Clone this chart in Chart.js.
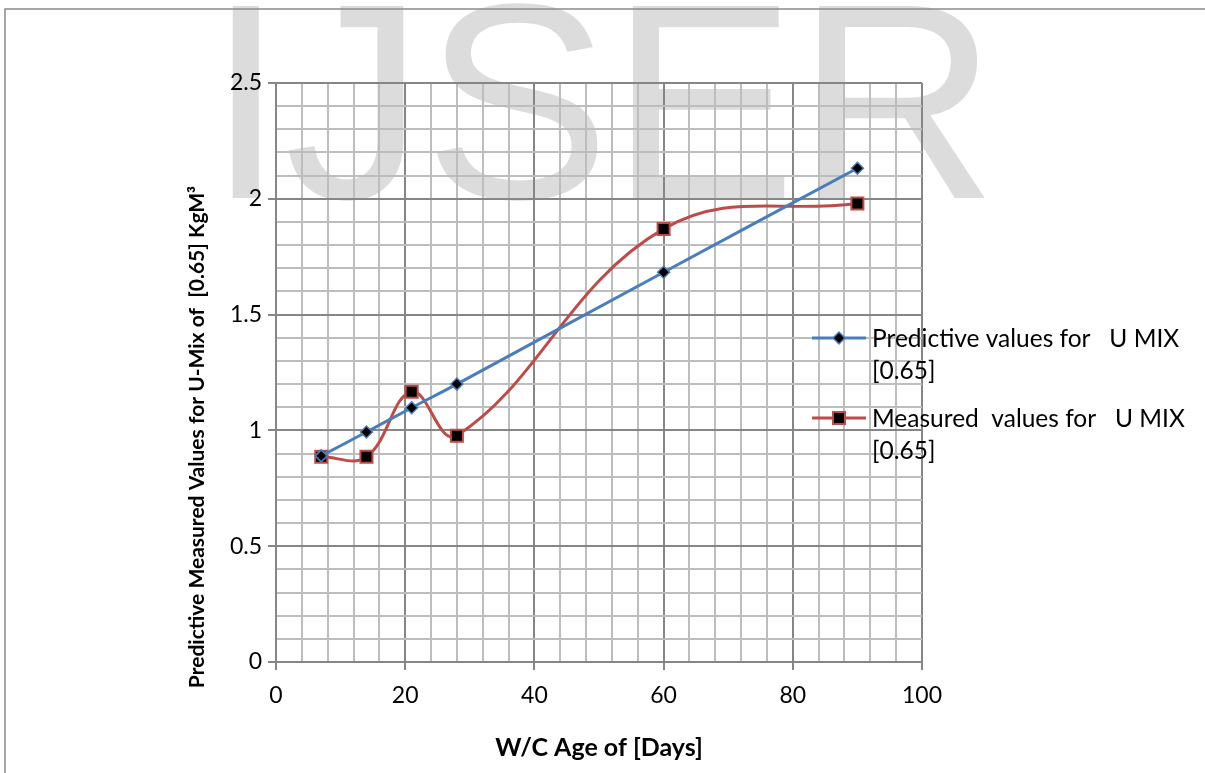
<!DOCTYPE html>
<html>
<head>
<meta charset="utf-8">
<script src="https://cdn.jsdelivr.net/npm/chart.js@4.4.1/dist/chart.umd.min.js"></script>
<style>
  html, body { margin: 0; padding: 0; background: #ffffff; }
  #wrap { width: 1205px; height: 773px; position: relative; }
</style>
</head>
<body>
<div id="wrap"><canvas id="c" width="1205" height="773"></canvas></div>
<script>
// ---- data ----
const days = [7, 14, 21, 28, 60, 90];
const predictive = [0.89, 0.993, 1.098, 1.20, 1.683, 2.132];
const measured = [0.886, 0.886, 1.167, 0.977, 1.87, 1.98];
const xTickLabels = [0, 20, 40, 60, 80, 100];
const yTickLabels = [0, 0.5, 1, 1.5, 2, 2.5];
const seriesNames = ['Predictive values for   U MIX [0.65]', 'Measured  values for   U MIX [0.65]'];
const xTitle = 'W/C Age of [Days]';
const yTitle = 'Predictive Measured Values for U-Mix of  [0.65] KgM\u00B3';
const watermark = 'IJSER';

// ---- styles ----
const BLUE = '#4a7ebb';
const RED = '#be4b48';
const MAJOR = '#868686';
const MINOR = '#bdbdbd';

Chart.defaults.font.family = 'Lato, "Open Sans", sans-serif';
Chart.defaults.color = '#000000';

function isMajorX(v) { return xTickLabels.some(t => Math.abs(t - v) < 1e-6); }
function isMajorY(v) { return yTickLabels.some(t => Math.abs(t - v) < 1e-6); }

const toPoints = (xs, ys) => xs.map((x, i) => ({ x: x, y: ys[i] }));

const backgroundPlugin = {
  id: 'backdrop',
  beforeDraw(chart) {
    const ctx = chart.ctx;
    ctx.save();
    ctx.fillStyle = '#ffffff';
    ctx.fillRect(0, 0, chart.width, chart.height);
    // watermark
    ctx.fillStyle = '#dcdcdc';
    ctx.font = '279px "Liberation Sans", Arial, sans-serif';
    ctx.textBaseline = 'alphabetic';
    ctx.textAlign = 'left';
    ctx.fillText(watermark, 207, 198);
    // outer frame
    ctx.strokeStyle = '#8a8a8a';
    ctx.lineWidth = 1.5;
    ctx.beginPath();
    ctx.moveTo(5, chart.height);
    ctx.lineTo(5, 9);
    ctx.lineTo(chart.width, 9);
    ctx.stroke();
    ctx.restore();
  }
};

const legendPlugin = {
  id: 'sideLegend',
  afterDraw(chart) {
    const ctx = chart.ctx;
    const H = Chart.helpers;
    const rows = [338, 418];
    ctx.save();
    chart.data.datasets.forEach((ds, i) => {
      const y = rows[i];
      ctx.strokeStyle = ds.borderColor;
      ctx.lineWidth = ds.borderWidth;
      ctx.beginPath();
      ctx.moveTo(812, y);
      ctx.lineTo(866, y);
      ctx.stroke();
      ctx.fillStyle = ds.pointBackgroundColor;
      ctx.strokeStyle = ds.pointBorderColor;
      ctx.lineWidth = ds.pointBorderWidth;
      H.drawPoint(ctx, { pointStyle: ds.pointStyle, rotation: 0, radius: ds.pointRadius, borderWidth: ds.pointBorderWidth }, 839, y);
      const label = ds.label;
      const cut = label.lastIndexOf(' [');
      const lines = [label.slice(0, cut), label.slice(cut + 1)];
      ctx.fillStyle = '#000000';
      ctx.font = '24.5px Lato, "Open Sans", sans-serif';
      ctx.textAlign = 'left';
      ctx.textBaseline = 'alphabetic';
      ctx.fillText(lines[0], 872, y + 9);
      ctx.fillText(lines[1], 872, y + 9 + 32);
    });
    // y axis title
    ctx.translate(197, 437);
    ctx.rotate(-Math.PI / 2);
    ctx.font = 'bold 21px Lato, "Open Sans", sans-serif';
    ctx.textAlign = 'center';
    ctx.textBaseline = 'middle';
    ctx.fillStyle = '#000000';
    ctx.fillText(yTitle, 0, 0);
    ctx.restore();
  }
};

new Chart(document.getElementById('c'), {
  type: 'scatter',
  data: {
    datasets: [
      {
        label: seriesNames[0],
        data: toPoints(days, predictive),
        showLine: true,
        borderColor: BLUE,
        borderWidth: 3,
        tension: 0.4,
        pointStyle: 'rectRot',
        pointRadius: 6,
        pointBackgroundColor: '#000000',
        pointBorderColor: BLUE,
        pointBorderWidth: 1.5
      },
      {
        label: seriesNames[1],
        data: toPoints(days, measured),
        showLine: true,
        borderColor: RED,
        borderWidth: 3,
        tension: 0.4,
        pointStyle: 'rect',
        pointRadius: 8.5,
        pointBackgroundColor: '#000000',
        pointBorderColor: RED,
        pointBorderWidth: 2
      }
    ]
  },
  options: {
    responsive: false,
    animation: false,
    devicePixelRatio: 1,
    layout: { padding: { top: 83, right: 283, left: 0, bottom: 0 } },
    plugins: {
      legend: { display: false },
      tooltip: { enabled: false }
    },
    scales: {
      x: {
        type: 'linear',
        min: 0,
        max: 100,
        afterFit(scale) { scale.height = 111; },
        ticks: {
          stepSize: 4,
          autoSkip: false,
          maxRotation: 0,
          padding: 12,
          font: { size: 23 },
          color: '#000000',
          callback: v => (isMajorX(v) ? String(v) : '')
        },
        grid: {
          color: c => (c.tick && isMajorX(c.tick.value) ? MAJOR : MINOR),
          lineWidth: 2,
          drawTicks: true,
          tickLength: 8,
          tickColor: c => (c.tick && isMajorX(c.tick.value) ? MAJOR : 'rgba(0,0,0,0)'),
          tickWidth: 2
        },
        border: { display: true, color: MAJOR, width: 2 },
        title: {
          display: true,
          text: xTitle,
          font: { size: 25, weight: 'bold' },
          color: '#000000',
          padding: { top: 0, bottom: 10 }
        }
      },
      y: {
        type: 'linear',
        min: 0,
        max: 2.5,
        afterFit(scale) { scale.width = 276; },
        ticks: {
          stepSize: 0.1,
          autoSkip: false,
          padding: 6,
          font: { size: 23 },
          color: '#000000',
          callback: v => (isMajorY(v) ? String(Math.round(v * 10) / 10) : '')
        },
        grid: {
          color: c => (c.tick && isMajorY(c.tick.value) ? MAJOR : MINOR),
          lineWidth: 2,
          drawTicks: true,
          tickLength: 8,
          tickColor: c => (c.tick && isMajorY(c.tick.value) ? MAJOR : 'rgba(0,0,0,0)'),
          tickWidth: 2
        },
        border: { display: true, color: MAJOR, width: 2 }
      }
    }
  },
  plugins: [backgroundPlugin, legendPlugin]
});
</script>
</body>
</html>
